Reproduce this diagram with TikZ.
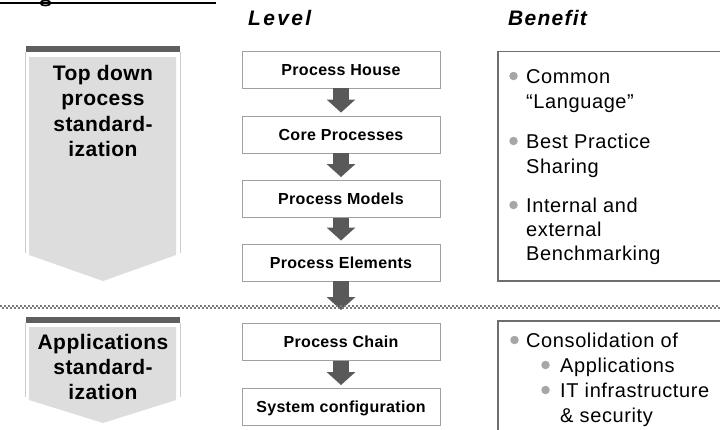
\documentclass[tikz,border=0pt]{standalone}
\usepackage{fontspec}
\setmainfont{Liberation Sans}
\usetikzlibrary{arrows.meta}
\definecolor{panelfill}{HTML}{DDDDDD}
\definecolor{panelbar}{HTML}{5F5F5F}
\definecolor{panelside}{HTML}{CCCCCC}
\definecolor{arrowgray}{HTML}{595959}
\definecolor{bulletgray}{HTML}{A6A6A6}
\definecolor{benefitborder}{HTML}{6E6E6E}
\definecolor{levelborder}{HTML}{A0A0A0}
\definecolor{divgray}{HTML}{7A7A7A}
\tikzset{
  levelbox/.style={draw=levelborder, line width=0.9pt, fill=white,
    minimum width=198pt, minimum height=37pt, inner sep=0pt,
    text height=11.3pt, text depth=0pt,
    font=\fontsize{16}{19}\selectfont\bfseries\addfontfeature{LetterSpace=2}},
  blockarrow/.style={arrowgray, line width=16pt,
    -{Triangle[width=28pt,length=13pt]}},
  headtext/.style={anchor=base west, inner sep=0pt,
    font=\fontsize{21}{25}\selectfont\bfseries\itshape\addfontfeature{LetterSpace=6}},
  paneltext/.style={anchor=base, inner sep=0pt,
    font=\fontsize{21}{25}\selectfont\bfseries\addfontfeature{LetterSpace=2}},
  bentext/.style={anchor=base west, inner sep=0pt,
    font=\fontsize{20}{25}\selectfont\addfontfeature{LetterSpace=3}},
  bullet/.style={circle, fill=bulletgray, inner sep=0pt, minimum size=8.5pt},
  benbox/.style={draw=benefitborder, line width=1.3pt},
}
\begin{document}
\begin{tikzpicture}[x=1pt,y=-1pt]
\useasboundingbox (0,0) rectangle (720,429);

% top-left rule with the cut-off bottom of a title glyph
\draw[line width=1.6pt] (45.5,3) ellipse [x radius=5.2pt, y radius=2.6pt];
\draw[line width=2.2pt] (0,3) -- (216,3);

% headers
\node[headtext, font=\fontsize{21}{25}\selectfont\bfseries\itshape\addfontfeature{LetterSpace=11}] (hlevel) at (248,25) {Level};
\node[headtext] (hbenefit) at (508,25) {Benefit};

% left panel 1
\draw[panelside, line width=0.8pt] (25.7,52) -- (25.7,253) (180,52) -- (180,253);
\fill[panelbar] (25.7,45.7) rectangle (180,52.3);
\fill[panelfill] (29,57) -- (176,57) -- (176,255) -- (103,281) -- (29,255) -- cycle;
\node[paneltext] (p1a) at (103,80) {Top down};
\node[paneltext] (p1b) at (103,105.5) {process};
\node[paneltext] (p1c) at (103,131) {standard-};
\node[paneltext] (p1d) at (103,156.5) {ization};

% left panel 2
\draw[panelside, line width=0.8pt] (25.7,323) -- (25.7,397) (180,323) -- (180,397);
\fill[panelbar] (25.7,316.7) rectangle (180,323.3);
\fill[panelfill] (29,327) -- (176,327) -- (176,400) -- (103,423) -- (29,400) -- cycle;
\node[paneltext] (p2a) at (103,349) {Applications};
\node[paneltext] (p2b) at (103,374) {standard-};
\node[paneltext] (p2c) at (103,399) {ization};

% level boxes
\node[levelbox] (house) at (341,69.5) {Process House};
\node[levelbox] (core) at (341,134.5) {Core Processes};
\node[levelbox] (models) at (341,199) {Process Models};
\node[levelbox] (elements) at (341,262.5) {Process Elements};
\node[levelbox] (chain) at (341,342) {Process Chain};
\node[levelbox] (sysconf) at (341,407) {System configuration};
\coordinate (divtip) at (341,310);

% block arrows
\draw[blockarrow] (house.south) -- ([yshift=3pt]core.north);
\draw[blockarrow] (core.south) -- ([yshift=3pt]models.north);
\draw[blockarrow] (models.south) -- ([yshift=3pt]elements.north);
\draw[blockarrow] (elements.south) -- (divtip);
\draw[blockarrow] (chain.south) -- ([yshift=3pt]sysconf.north);

% divider
\draw[divgray, line width=2pt, dash pattern=on 2pt off 2pt] (0,305.5) -- (720,305.5);
\draw[divgray, line width=2pt, dash pattern=on 2pt off 2pt, dash phase=2pt] (0,307.5) -- (720,307.5);

% benefit boxes
\draw[benbox] (498,51.5) rectangle (730,281);
\draw[benbox] (498,321) rectangle (730,440);

% benefit texts (upper)
\node[bullet] (b1) at (513.5,76) {};
\node[bentext] (t1a) at (526,83) {Common};
\node[bentext] (t1b) at (526,108) {“Language”};
\node[bullet] (b2) at (513.5,141) {};
\node[bentext] (t2a) at (526,148) {Best Practice};
\node[bentext] (t2b) at (526,173) {Sharing};
\node[bullet] (b3) at (513.5,205) {};
\node[bentext] (t3a) at (526,212) {Internal and};
\node[bentext] (t3b) at (526,236) {external};
\node[bentext] (t3c) at (526,260) {Benchmarking};

% benefit texts (lower)
\node[bullet] (b4) at (514.5,340) {};
\node[bentext] (t4a) at (526,347) {Consolidation of};
\node[bullet] (b5) at (545.5,365) {};
\node[bentext] (t5a) at (560,372) {Applications};
\node[bullet] (b6) at (545.5,390) {};
\node[bentext] (t6a) at (560,397) {IT infrastructure};
\node[bentext] (t6b) at (560,422) {\& security};
\end{tikzpicture}
\end{document}
